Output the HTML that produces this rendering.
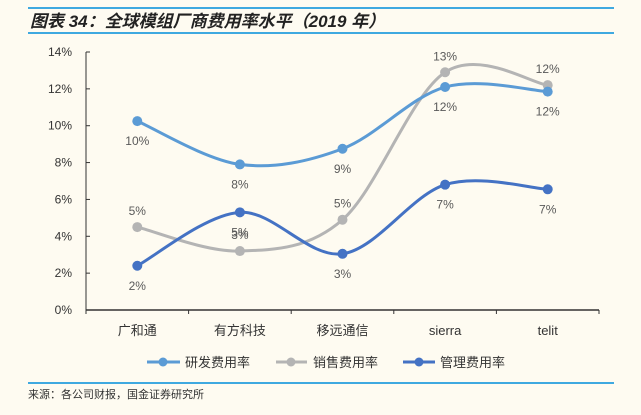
<!DOCTYPE html>
<html><head><meta charset="utf-8"><style>
body{margin:0;background:#fefbf1;}
svg text{font-family:"Liberation Sans","Noto Sans CJK SC",sans-serif;}
</style></head><body>
<svg width="641" height="410" xmlns="http://www.w3.org/2000/svg">
<rect width="641" height="410" fill="#fefbf1"/>
<line x1="28" y1="8" x2="614" y2="8" stroke="#3fa9e0" stroke-width="2"/>
<text x="30" y="27" font-size="17" font-weight="bold" font-style="italic" fill="#222">图表 34：全球模组厂商费用率水平（2019 年）</text>
<line x1="28" y1="33" x2="614" y2="33" stroke="#3fa9e0" stroke-width="2"/>
<g id="axes"></g>
<g id="series"></g>
<g>
<g><line x1="147" y1="362" x2="180" y2="362" stroke="#5b9bd5" stroke-width="3"/><circle cx="163" cy="362" r="4.5" fill="#5b9bd5"/><text x="185" y="367" font-size="13" fill="#333">研发费用率</text></g>
<g><line x1="276" y1="362" x2="307" y2="362" stroke="#b4b4b4" stroke-width="3"/><circle cx="291" cy="362" r="4.5" fill="#b4b4b4"/><text x="313" y="367" font-size="13" fill="#333">销售费用率</text></g>
<g><line x1="403" y1="362" x2="435" y2="362" stroke="#4472c4" stroke-width="3"/><circle cx="419" cy="362" r="4.5" fill="#4472c4"/><text x="440" y="367" font-size="13" fill="#333">管理费用率</text></g>
</g>
<line x1="28" y1="383" x2="614" y2="383" stroke="#3fa9e0" stroke-width="2"/>
<text x="28" y="398" font-size="11" fill="#333">来源：各公司财报，国金证券研究所</text>
</svg>
<script>
const categories=["广和通","有方科技","移远通信","sierra","telit"];
const rdValues=[10.25,7.9,8.75,12.1,11.85];
const salesValues=[4.5,3.2,4.9,12.9,12.2];
const adminValues=[2.4,5.3,3.05,6.8,6.55];
const yTicks=[0,2,4,6,8,10,12,14];
const NS="http://www.w3.org/2000/svg";
const X0=86,X1=599,Y0=310,Y1=52;
const step=(X1-X0)/categories.length;
const xs=i=>X0+step*(i+0.5);
const ys=v=>Y0-(v/14)*(Y0-Y1);
function mk(tag,attrs,parent){const e=document.createElementNS(NS,tag);for(const k in attrs)e.setAttribute(k,attrs[k]);parent.appendChild(e);return e;}
const axes=document.getElementById('axes');
const yAxis=mk('line',{x1:X0,y1:Y1,x2:X0,y2:Y0,stroke:'#333','stroke-width':1},axes);


yTicks.forEach(t=>{
 const y=ys(t);
 const tk=mk('line',{x1:X0,y1:y,x2:X0+4,y2:y,stroke:'#333'},axes);
 
 
 const tx=mk('text',{x:X0-14,y:y+4,'font-size':12,fill:'#333','text-anchor':'end'},axes);
 tx.textContent=t+'%';
 
 
});
const xAxis=mk('line',{x1:X0,y1:Y0,x2:X1,y2:Y0,stroke:'#333','stroke-width':1.5},axes);


for(let i=0;i<=categories.length;i++){
 const tk=mk('line',{x1:X0+step*i,y1:Y0,x2:X0+step*i,y2:Y0+4,stroke:'#333'},axes);
 
 
}
categories.forEach((c,i)=>{
 const tx=mk('text',{x:xs(i),y:335,'font-size':13,fill:'#333','text-anchor':'middle'},axes);
 tx.textContent=c;
 
 
});
function smooth(pts){
 let d=`M${pts[0][0]},${pts[0][1]}`;
 for(let i=0;i<pts.length-1;i++){
  const p0=pts[i-1]||pts[i],p1=pts[i],p2=pts[i+1],p3=pts[i+2]||p2;
  const c1=[p1[0]+(p2[0]-p0[0])/6,p1[1]+(p2[1]-p0[1])/6];
  const c2=[p2[0]-(p3[0]-p1[0])/6,p2[1]-(p3[1]-p1[1])/6];
  d+=` C${c1[0]},${c1[1]} ${c2[0]},${c2[1]} ${p2[0]},${p2[1]}`;
 }
 return d;
}
const sg=document.getElementById('series');
function draw(vals,color,name,labelOff){
 const g=mk('g',{},sg);
 
 
 const pts=vals.map((v,i)=>[xs(i),ys(v)]);
 const p=mk('path',{d:smooth(pts),fill:'none',stroke:color,'stroke-width':3},g);
 
 
 pts.forEach((pt,i)=>{
  const c=mk('circle',{cx:pt[0],cy:pt[1],r:5,fill:color},g);
  
  
  const t=mk('text',{x:pt[0],y:pt[1]+labelOff,'font-size':12,fill:'#595959','text-anchor':'middle'},g);
  t.textContent=Math.round(vals[i])+'%';
  
  
 });
}
draw(salesValues,'#b4b4b4','sales-expense-series',-12);
draw(rdValues,'#5b9bd5','rd-expense-series',24);
draw(adminValues,'#4472c4','admin-expense-series',24);
</script>
</body></html>
